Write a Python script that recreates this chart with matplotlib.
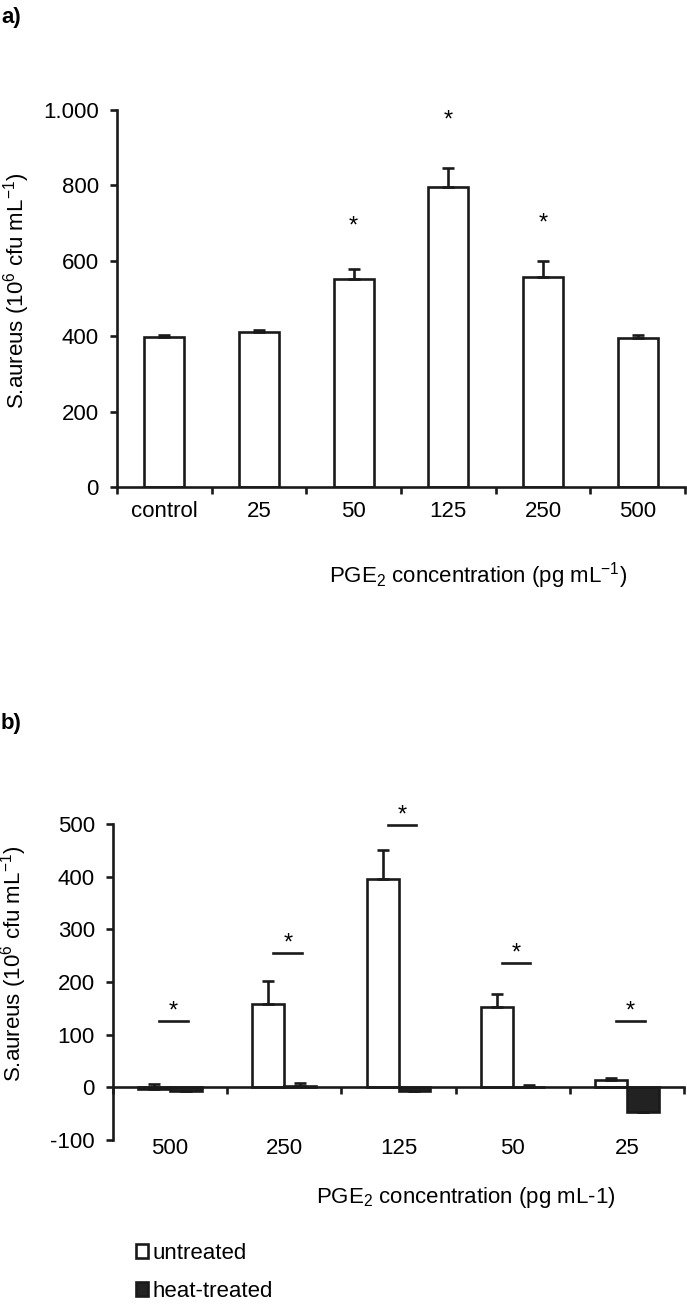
import matplotlib
matplotlib.use("Agg")
import matplotlib.pyplot as plt
import numpy as np
from matplotlib.patches import Patch
from matplotlib import transforms

plt.rcParams['font.family'] = ['Liberation Sans', 'DejaVu Sans']
plt.rcParams['mathtext.fontset'] = 'custom'
plt.rcParams['mathtext.rm'] = 'Liberation Sans'
plt.rcParams['mathtext.default'] = 'regular'
plt.rcParams['axes.unicode_minus'] = False

# panel a: PGE2 dose response
a_labels = ["control", "25", "50", "125", "250", "500"]
a_means = [398, 410, 552, 795, 557, 396]
a_err = [6, 7, 25, 52, 42, 8]
a_star = [None, None, 692, 973, 698, None]
a_yticks = [0, 200, 400, 600, 800, 1000]
a_yticklabels = ["0", "200", "400", "600", "800", "1.000"]

# panel b: untreated vs heat-treated
b_labels = ["500", "250", "125", "50", "25"]
b_untreated = [-3, 158, 396, 153, 13]
b_untreated_err = [10, 43, 55, 25, 5]
b_heat = [-7, 2, -7, 1, -47]
b_heat_err = [0, 6, 0, 4, 0]
b_sig = [126, 256, 499, 237, 126]
b_yticks = [-100, 0, 100, 200, 300, 400, 500]

W, H = 687, 1305
FS = 16
LW = 1.9
INK = '#1a1a1a'

fig = plt.figure(figsize=(W / 100, H / 100), dpi=100)


def style_axes(ax):
    ax.spines['top'].set_visible(False)
    ax.spines['right'].set_visible(False)
    for side in ['left', 'bottom']:
        ax.spines[side].set_linewidth(LW)
        ax.spines[side].set_color(INK)
    ax.tick_params(axis='y', direction='out', length=5, width=LW, pad=8,
                   labelsize=FS, color=INK)
    ax.tick_params(axis='x', which='major', direction='out', length=5,
                   width=LW, color=INK)


# ---- panel a ----
ax_a = fig.add_axes([117 / W, 1 - 487 / H, (685 - 117) / W, (487 - 110) / H])
xa = np.arange(len(a_labels))
ax_a.bar(xa, a_means, width=0.42, color='white', edgecolor=INK,
         linewidth=LW, zorder=2)
ax_a.errorbar(xa, a_means, yerr=[np.zeros(len(xa)), a_err], fmt='none',
              ecolor=INK, elinewidth=LW, capsize=4.5, capthick=LW, zorder=3)
for i, s in enumerate(a_star):
    if s is not None:
        ax_a.text(i, s, '*', ha='center', va='center', fontsize=17)
ax_a.set_xlim(-0.5, len(a_labels) - 0.5)
ax_a.set_ylim(0, 1000)
ax_a.set_yticks(a_yticks)
ax_a.set_yticklabels(a_yticklabels)
ax_a.set_xticks(np.arange(-0.5, len(a_labels), 1))
ax_a.set_xticklabels([])
ax_a.set_xticks(xa, minor=True)
ax_a.set_xticklabels(a_labels, minor=True)
style_axes(ax_a)
ax_a.tick_params(axis='x', which='minor', length=0, pad=10, labelsize=FS)

fig.text(17 / W, 1 - 291 / H, 'S.aureus (10$^{6}$ cfu mL$^{-1}$)',
         rotation=90, ha='center', va='center', fontsize=FS)
fig.text(478 / W, 1 - 576 / H, 'PGE$_{2}$ concentration (pg mL$^{-1}$)',
         ha='center', va='center', fontsize=FS)
fig.text(1 / W, 1 - 17 / H, 'a)', ha='left', va='center', fontsize=FS,
         fontweight='bold')

# ---- panel b ----
ax_b = fig.add_axes([113 / W, 1 - 1140 / H, (684 - 113) / W, (1140 - 824) / H])
xb = np.arange(len(b_labels))
bw = 0.28
ax_b.bar(xb - bw / 2, b_untreated, width=bw, color='white', edgecolor=INK,
         linewidth=LW, zorder=2)
ax_b.bar(xb + bw / 2, b_heat, width=bw, color='#222222', edgecolor=INK,
         linewidth=LW, zorder=2)
ax_b.errorbar(xb - bw / 2, b_untreated,
              yerr=[np.zeros(len(xb)), b_untreated_err], fmt='none',
              ecolor=INK, elinewidth=LW, capsize=4.5, capthick=LW, zorder=3)
ax_b.errorbar(xb + bw / 2, b_heat, yerr=[np.zeros(len(xb)), b_heat_err],
              fmt='none', ecolor=INK, elinewidth=LW, capsize=4.5,
              capthick=LW, zorder=3)
for i, s in enumerate(b_sig):
    ax_b.plot([i + 0.03 - 0.125, i + 0.03 + 0.125], [s, s], color=INK,
              linewidth=LW)
    ax_b.text(i + 0.03, s + 17, '*', ha='center', va='center', fontsize=17)
ax_b.set_xlim(-0.5, len(b_labels) - 0.5)
ax_b.set_ylim(-100, 500)
ax_b.set_yticks(b_yticks)
ax_b.spines['bottom'].set_position(('data', 0))
ax_b.set_xticks(np.arange(-0.5, len(b_labels), 1))
ax_b.set_xticklabels([])
style_axes(ax_b)
trans = transforms.blended_transform_factory(ax_b.transData, ax_b.transAxes)
for i, lab in enumerate(b_labels):
    ax_b.text(i, -0.026, lab, transform=trans, ha='center', va='center',
              fontsize=FS)

fig.text(14 / W, 1 - 964 / H, 'S.aureus (10$^{6}$ cfu mL$^{-1}$)',
         rotation=90, ha='center', va='center', fontsize=FS)
fig.text(466 / W, 1 - 1198 / H, 'PGE$_{2}$ concentration (pg mL-1)',
         ha='center', va='center', fontsize=FS)
fig.text(1 / W, 1 - 724 / H, 'b)', ha='left', va='center', fontsize=FS,
         fontweight='bold')

handles = [Patch(facecolor='white', edgecolor=INK, linewidth=LW),
           Patch(facecolor='#222222', edgecolor=INK, linewidth=LW)]
fig.legend(handles, ['untreated', 'heat-treated'], loc='upper left',
           bbox_to_anchor=(136 / W, 1 - 1243 / H), frameon=False,
           fontsize=FS, handlelength=0.56, handleheight=0.56,
           handletextpad=0.2, labelspacing=0.75, borderpad=0,
           borderaxespad=0)

fig.savefig("out.png", dpi=100)
